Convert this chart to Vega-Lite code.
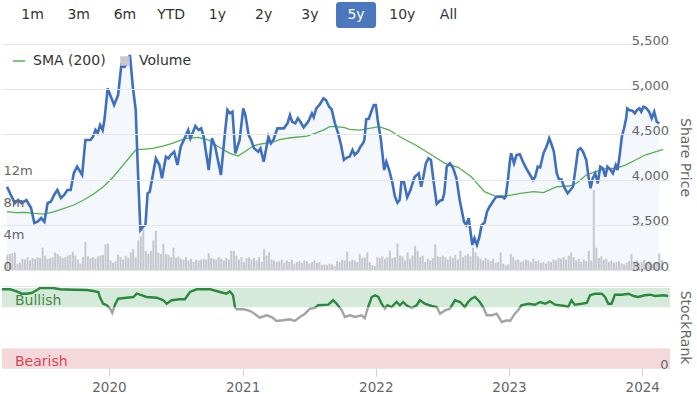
{
"$schema": "https://vega.github.io/schema/vega-lite/v6.json",
"padding": {"left": 2, "top": 2, "right": 5, "bottom": 0},
"bounds": "flush",
"spacing": 16,
"resolve": {"scale": {"color": "independent"}, "legend": {"color": "independent"}},
"config": {"font": "DejaVu Sans", "view": {"stroke": null}, "axis": {"labelFont": "DejaVu Sans", "titleFont": "DejaVu Sans"}},
"datasets": {
"buttons": [{"b":"1m"},{"b":"3m"},{"b":"6m"},{"b":"YTD"},{"b":"1y"},{"b":"2y"},{"b":"3y"},{"b":"5y"},{"b":"10y"},{"b":"All"}],
"zones": [{"zone":"Bullish","lo":74,"hi":97.5},{"zone":"Bearish","lo":0,"hi":24}],
"price": [
{"d":"2019-03-14","p":3921},{"d":"2019-03-27","p":3811},{"d":"2019-04-05","p":3741},{"d":"2019-04-14","p":3774},{"d":"2019-04-23","p":3741},{"d":"2019-05-07","p":3774},{"d":"2019-05-20","p":3686},{"d":"2019-05-29","p":3520},{"d":"2019-06-07","p":3534},{"d":"2019-06-17","p":3575},{"d":"2019-06-26","p":3534},{"d":"2019-07-05","p":3741},{"d":"2019-07-14","p":3755},{"d":"2019-07-23","p":3830},{"d":"2019-08-01","p":3885},{"d":"2019-08-11","p":3796},{"d":"2019-08-20","p":3830},{"d":"2019-08-29","p":3885},{"d":"2019-09-07","p":3885},{"d":"2019-09-16","p":4073},{"d":"2019-09-25","p":4143},{"d":"2019-10-09","p":4051},{"d":"2019-10-18","p":4438},{"d":"2019-11-01","p":4438},{"d":"2019-11-08","p":4474},{"d":"2019-11-15","p":4548},{"d":"2019-11-21","p":4515},{"d":"2019-11-28","p":4604},{"d":"2019-12-05","p":4548},{"d":"2019-12-10","p":4659},{"d":"2019-12-19","p":5010},{"d":"2019-12-26","p":4936},
{"d":"2020-01-06","p":4825},{"d":"2020-01-17","p":4936},{"d":"2020-01-26","p":5267},{"d":"2020-02-04","p":5248},{"d":"2020-02-11","p":5286},{"d":"2020-02-19","p":5378},{"d":"2020-02-27","p":5027},{"d":"2020-03-06","p":4770},{"d":"2020-03-12","p":4106},{"d":"2020-03-19","p":3442},{"d":"2020-03-26","p":3479},{"d":"2020-04-02","p":3498},{"d":"2020-04-08","p":3848},{"d":"2020-04-14","p":3866},{"d":"2020-04-20","p":3995},{"d":"2020-05-01","p":4235},{"d":"2020-05-11","p":4161},{"d":"2020-05-18","p":4014},{"d":"2020-05-29","p":4253},{"d":"2020-06-05","p":4235},{"d":"2020-06-11","p":4272},{"d":"2020-06-21","p":4308},{"d":"2020-06-30","p":4161},{"d":"2020-07-09","p":4364},{"d":"2020-07-22","p":4474},{"d":"2020-07-30","p":4548},{"d":"2020-08-05","p":4457},{"d":"2020-08-19","p":4593},{"d":"2020-08-28","p":4548},{"d":"2020-09-04","p":4567},{"d":"2020-09-11","p":4474},{"d":"2020-09-25","p":4106},{"d":"2020-10-04","p":4457},{"d":"2020-10-13","p":4364},{"d":"2020-10-29","p":4051},{"d":"2020-11-09","p":4512},{"d":"2020-11-16","p":4770},{"d":"2020-11-23","p":4733},{"d":"2020-11-30","p":4751},{"d":"2020-12-08","p":4291},{"d":"2020-12-20","p":4438},{"d":"2020-12-30","p":4788},
{"d":"2021-01-05","p":4714},{"d":"2021-01-14","p":4493},{"d":"2021-01-21","p":4438},{"d":"2021-01-29","p":4346},{"d":"2021-02-04","p":4327},{"d":"2021-02-10","p":4308},{"d":"2021-02-16","p":4346},{"d":"2021-02-25","p":4198},{"d":"2021-03-10","p":4474},{"d":"2021-03-17","p":4401},{"d":"2021-03-24","p":4438},{"d":"2021-04-04","p":4567},{"d":"2021-04-22","p":4567},{"d":"2021-05-02","p":4622},{"d":"2021-05-09","p":4714},{"d":"2021-05-15","p":4640},{"d":"2021-05-24","p":4622},{"d":"2021-05-31","p":4678},{"d":"2021-06-07","p":4640},{"d":"2021-06-16","p":4578},{"d":"2021-06-25","p":4622},{"d":"2021-06-30","p":4651},{"d":"2021-07-09","p":4733},{"d":"2021-07-14","p":4689},{"d":"2021-07-21","p":4788},{"d":"2021-07-30","p":4825},{"d":"2021-08-10","p":4899},{"d":"2021-08-17","p":4880},{"d":"2021-08-26","p":4806},{"d":"2021-09-02","p":4777},{"d":"2021-09-11","p":4622},{"d":"2021-09-20","p":4512},{"d":"2021-09-28","p":4383},{"d":"2021-10-06","p":4217},{"d":"2021-10-15","p":4246},{"d":"2021-10-22","p":4253},{"d":"2021-10-30","p":4327},{"d":"2021-11-05","p":4272},{"d":"2021-11-14","p":4308},{"d":"2021-11-21","p":4364},{"d":"2021-11-28","p":4401},{"d":"2021-12-02","p":4438},{"d":"2021-12-07","p":4667},{"d":"2021-12-14","p":4673},{"d":"2021-12-21","p":4751},{"d":"2021-12-28","p":4825},
{"d":"2022-01-03","p":4825},{"d":"2022-01-08","p":4659},{"d":"2022-01-17","p":4438},{"d":"2022-01-26","p":4106},{"d":"2022-02-01","p":4198},{"d":"2022-02-09","p":4106},{"d":"2022-02-18","p":3959},{"d":"2022-02-25","p":3811},{"d":"2022-03-04","p":3744},{"d":"2022-03-10","p":3774},{"d":"2022-03-15","p":3977},{"d":"2022-03-22","p":3977},{"d":"2022-03-31","p":3804},{"d":"2022-04-09","p":3885},{"d":"2022-04-21","p":4032},{"d":"2022-05-02","p":4069},{"d":"2022-05-09","p":3921},{"d":"2022-05-15","p":4032},{"d":"2022-05-22","p":4180},{"d":"2022-05-29","p":4235},{"d":"2022-06-05","p":4217},{"d":"2022-06-12","p":3995},{"d":"2022-06-21","p":3730},{"d":"2022-06-30","p":3766},{"d":"2022-07-07","p":3774},{"d":"2022-07-12","p":3848},{"d":"2022-07-19","p":4143},{"d":"2022-07-28","p":4180},{"d":"2022-08-06","p":4125},{"d":"2022-08-15","p":4014},{"d":"2022-08-24","p":3774},{"d":"2022-09-05","p":3534},{"d":"2022-09-11","p":3498},{"d":"2022-09-18","p":3572},{"d":"2022-09-25","p":3368},{"d":"2022-09-28","p":3277},{"d":"2022-10-04","p":3351},{"d":"2022-10-11","p":3277},{"d":"2022-10-18","p":3368},{"d":"2022-10-24","p":3498},{"d":"2022-11-01","p":3523},{"d":"2022-11-08","p":3645},{"d":"2022-11-15","p":3700},{"d":"2022-11-24","p":3755},{"d":"2022-12-02","p":3804},{"d":"2022-12-12","p":3811},{"d":"2022-12-21","p":3811},{"d":"2022-12-26","p":3793},{"d":"2022-12-30","p":3811},
{"d":"2023-01-05","p":3995},{"d":"2023-01-11","p":4217},{"d":"2023-01-14","p":4291},{"d":"2023-01-22","p":4180},{"d":"2023-01-29","p":4272},{"d":"2023-02-07","p":4280},{"d":"2023-02-16","p":4198},{"d":"2023-02-25","p":4125},{"d":"2023-03-08","p":4051},{"d":"2023-03-16","p":3995},{"d":"2023-03-22","p":4032},{"d":"2023-03-29","p":4143},{"d":"2023-04-05","p":4136},{"d":"2023-04-14","p":4291},{"d":"2023-04-23","p":4371},{"d":"2023-04-30","p":4457},{"d":"2023-05-07","p":4383},{"d":"2023-05-13","p":4308},{"d":"2023-05-21","p":4069},{"d":"2023-05-28","p":3995},{"d":"2023-06-03","p":4003},{"d":"2023-06-10","p":3921},{"d":"2023-06-20","p":3848},{"d":"2023-06-28","p":3885},{"d":"2023-07-05","p":3921},{"d":"2023-07-13","p":4143},{"d":"2023-07-19","p":4327},{"d":"2023-07-26","p":4346},{"d":"2023-08-02","p":4308},{"d":"2023-08-11","p":4217},{"d":"2023-08-18","p":4014},{"d":"2023-08-23","p":3904},{"d":"2023-08-29","p":4014},{"d":"2023-09-05","p":4069},{"d":"2023-09-12","p":3959},{"d":"2023-09-19","p":4143},{"d":"2023-09-26","p":4125},{"d":"2023-10-03","p":4032},{"d":"2023-10-09","p":4143},{"d":"2023-10-18","p":4106},{"d":"2023-10-24","p":4069},{"d":"2023-11-01","p":4161},{"d":"2023-11-06","p":4106},{"d":"2023-11-12","p":4272},{"d":"2023-11-18","p":4474},{"d":"2023-11-24","p":4567},{"d":"2023-11-30","p":4678},{"d":"2023-12-03","p":4788},{"d":"2023-12-09","p":4770},{"d":"2023-12-17","p":4762},{"d":"2023-12-24","p":4733},{"d":"2023-12-30","p":4770},
{"d":"2024-01-06","p":4788},{"d":"2024-01-11","p":4751},{"d":"2024-01-17","p":4806},{"d":"2024-01-24","p":4795},{"d":"2024-02-02","p":4751},{"d":"2024-02-09","p":4678},{"d":"2024-02-16","p":4751},{"d":"2024-02-23","p":4640},{"d":"2024-03-01","p":4622}
],
"sma": [
{"d":"2019-03-14","s":3645},{"d":"2019-04-05","s":3634},{"d":"2019-05-02","s":3638},{"d":"2019-05-29","s":3627},{"d":"2019-06-26","s":3619},{"d":"2019-07-23","s":3645},{"d":"2019-08-20","s":3682},{"d":"2019-09-16","s":3719},{"d":"2019-10-13","s":3774},{"d":"2019-11-10","s":3841},{"d":"2019-12-07","s":3921},{"d":"2020-01-04","s":4032},{"d":"2020-01-31","s":4161},{"d":"2020-02-23","s":4272},{"d":"2020-03-08","s":4335},{"d":"2020-03-26","s":4335},{"d":"2020-04-22","s":4346},{"d":"2020-05-20","s":4371},{"d":"2020-06-16","s":4401},{"d":"2020-07-22","s":4457},{"d":"2020-08-28","s":4468},{"d":"2020-09-25","s":4438},{"d":"2020-10-22","s":4364},{"d":"2020-11-23","s":4291},{"d":"2020-12-16","s":4261},{"d":"2021-01-03","s":4308},{"d":"2021-01-26","s":4371},{"d":"2021-02-17","s":4394},{"d":"2021-03-17","s":4408},{"d":"2021-04-13","s":4446},{"d":"2021-05-11","s":4463},{"d":"2021-06-25","s":4482},{"d":"2021-07-23","s":4519},{"d":"2021-08-10","s":4548},{"d":"2021-08-27","s":4585},{"d":"2021-09-16","s":4585},{"d":"2021-10-08","s":4574},{"d":"2021-10-22","s":4556},{"d":"2021-11-19","s":4548},{"d":"2021-12-16","s":4567},{"d":"2022-01-12","s":4585},{"d":"2022-02-09","s":4548},{"d":"2022-03-13","s":4468},{"d":"2022-04-23","s":4383},{"d":"2022-06-07","s":4272},{"d":"2022-07-14","s":4180},{"d":"2022-08-20","s":4136},{"d":"2022-09-25","s":4032},{"d":"2022-11-01","s":3866},{"d":"2022-11-28","s":3822},{"d":"2022-12-26","s":3818},{"d":"2023-01-17","s":3830},{"d":"2023-02-09","s":3848},{"d":"2023-03-18","s":3866},{"d":"2023-04-14","s":3855},{"d":"2023-05-21","s":3921},{"d":"2023-06-26","s":3929},{"d":"2023-07-15","s":3959},{"d":"2023-08-11","s":4051},{"d":"2023-09-07","s":4087},{"d":"2023-10-05","s":4125},{"d":"2023-11-01","s":4125},{"d":"2023-11-28","s":4161},{"d":"2023-12-26","s":4217},{"d":"2024-01-22","s":4272},{"d":"2024-02-19","s":4308},{"d":"2024-03-12","s":4335}
],
"volume": [
{"d":"2019-03-15","v":1.9},{"d":"2019-03-22","v":2.0},{"d":"2019-03-29","v":2.1},{"d":"2019-04-05","v":2.2},{"d":"2019-04-12","v":0.8},{"d":"2019-04-19","v":0.9},{"d":"2019-04-26","v":1.4},{"d":"2019-05-03","v":1.3},{"d":"2019-05-10","v":1.6},{"d":"2019-05-17","v":1.2},{"d":"2019-05-24","v":1.5},{"d":"2019-05-31","v":1.4},{"d":"2019-06-07","v":1.6},{"d":"2019-06-14","v":1.5},{"d":"2019-06-21","v":2.8},{"d":"2019-06-28","v":1.8},{"d":"2019-07-05","v":1.4},{"d":"2019-07-12","v":1.5},{"d":"2019-07-19","v":1.6},{"d":"2019-07-26","v":2.2},{"d":"2019-08-02","v":2.0},{"d":"2019-08-09","v":1.7},{"d":"2019-08-16","v":1.5},{"d":"2019-08-23","v":1.6},{"d":"2019-08-30","v":1.8},{"d":"2019-09-06","v":1.9},{"d":"2019-09-13","v":2.3},{"d":"2019-09-20","v":1.8},{"d":"2019-09-27","v":1.3},{"d":"2019-10-04","v":0.8},{"d":"2019-10-11","v":1.6},{"d":"2019-10-18","v":3.5},{"d":"2019-10-25","v":1.7},{"d":"2019-11-01","v":1.5},{"d":"2019-11-08","v":1.6},{"d":"2019-11-15","v":1.4},{"d":"2019-11-22","v":1.7},{"d":"2019-11-29","v":1.8},{"d":"2019-12-06","v":1.9},{"d":"2019-12-13","v":3.2},{"d":"2019-12-20","v":3.3},{"d":"2019-12-27","v":1.2},
{"d":"2020-01-03","v":0.9},{"d":"2020-01-10","v":1.1},{"d":"2020-01-17","v":1.9},{"d":"2020-01-24","v":1.6},{"d":"2020-01-31","v":1.3},{"d":"2020-02-07","v":1.8},{"d":"2020-02-14","v":1.5},{"d":"2020-02-21","v":2.2},{"d":"2020-02-28","v":2.6},{"d":"2020-03-06","v":1.6},{"d":"2020-03-13","v":3.7},{"d":"2020-03-20","v":4.2},{"d":"2020-03-27","v":5.1},{"d":"2020-04-03","v":2.4},{"d":"2020-04-10","v":2.0},{"d":"2020-04-17","v":2.4},{"d":"2020-04-24","v":3.7},{"d":"2020-05-01","v":4.9},{"d":"2020-05-08","v":2.2},{"d":"2020-05-15","v":2.0},{"d":"2020-05-22","v":3.3},{"d":"2020-05-29","v":2.0},{"d":"2020-06-05","v":1.9},{"d":"2020-06-12","v":1.6},{"d":"2020-06-19","v":2.8},{"d":"2020-06-26","v":1.5},{"d":"2020-07-03","v":1.7},{"d":"2020-07-10","v":1.4},{"d":"2020-07-17","v":1.3},{"d":"2020-07-24","v":1.6},{"d":"2020-07-31","v":1.2},{"d":"2020-08-07","v":1.4},{"d":"2020-08-14","v":1.0},{"d":"2020-08-21","v":1.3},{"d":"2020-08-28","v":1.2},{"d":"2020-09-04","v":1.3},{"d":"2020-09-11","v":1.4},{"d":"2020-09-18","v":1.3},{"d":"2020-09-25","v":2.1},{"d":"2020-10-02","v":1.5},{"d":"2020-10-09","v":1.4},{"d":"2020-10-16","v":1.3},{"d":"2020-10-23","v":1.6},{"d":"2020-10-30","v":1.4},{"d":"2020-11-06","v":1.2},{"d":"2020-11-13","v":1.5},{"d":"2020-11-20","v":1.3},{"d":"2020-11-27","v":2.4},{"d":"2020-12-04","v":2.4},{"d":"2020-12-11","v":1.8},{"d":"2020-12-18","v":1.3},{"d":"2020-12-25","v":1.6},
{"d":"2021-01-01","v":1.0},{"d":"2021-01-08","v":1.5},{"d":"2021-01-15","v":1.6},{"d":"2021-01-22","v":1.3},{"d":"2021-01-29","v":1.5},{"d":"2021-02-05","v":1.2},{"d":"2021-02-12","v":1.6},{"d":"2021-02-19","v":1.0},{"d":"2021-02-26","v":2.6},{"d":"2021-03-05","v":1.8},{"d":"2021-03-12","v":2.2},{"d":"2021-03-19","v":1.3},{"d":"2021-03-26","v":1.2},{"d":"2021-04-02","v":1.0},{"d":"2021-04-09","v":1.1},{"d":"2021-04-16","v":1.3},{"d":"2021-04-23","v":0.9},{"d":"2021-04-30","v":1.2},{"d":"2021-05-07","v":1.0},{"d":"2021-05-14","v":1.3},{"d":"2021-05-21","v":0.8},{"d":"2021-05-28","v":1.0},{"d":"2021-06-04","v":1.1},{"d":"2021-06-11","v":0.9},{"d":"2021-06-18","v":1.2},{"d":"2021-06-25","v":1.1},{"d":"2021-07-02","v":0.8},{"d":"2021-07-09","v":1.0},{"d":"2021-07-16","v":1.2},{"d":"2021-07-23","v":0.9},{"d":"2021-07-30","v":1.0},{"d":"2021-08-06","v":0.6},{"d":"2021-08-13","v":0.7},{"d":"2021-08-20","v":0.6},{"d":"2021-08-27","v":0.8},{"d":"2021-09-03","v":0.7},{"d":"2021-09-10","v":0.5},{"d":"2021-09-17","v":1.1},{"d":"2021-09-24","v":1.0},{"d":"2021-10-01","v":1.3},{"d":"2021-10-08","v":1.2},{"d":"2021-10-15","v":2.3},{"d":"2021-10-22","v":1.1},{"d":"2021-10-29","v":1.3},{"d":"2021-11-05","v":1.2},{"d":"2021-11-12","v":1.0},{"d":"2021-11-19","v":2.0},{"d":"2021-11-26","v":1.5},{"d":"2021-12-03","v":1.6},{"d":"2021-12-10","v":2.2},{"d":"2021-12-17","v":1.0},{"d":"2021-12-24","v":0.6},{"d":"2021-12-31","v":0.5},
{"d":"2022-01-07","v":1.6},{"d":"2022-01-14","v":1.5},{"d":"2022-01-21","v":1.7},{"d":"2022-01-28","v":1.4},{"d":"2022-02-04","v":1.6},{"d":"2022-02-11","v":2.4},{"d":"2022-02-18","v":1.5},{"d":"2022-02-25","v":1.6},{"d":"2022-03-04","v":3.3},{"d":"2022-03-11","v":1.8},{"d":"2022-03-18","v":1.7},{"d":"2022-03-25","v":1.2},{"d":"2022-04-01","v":2.2},{"d":"2022-04-08","v":1.4},{"d":"2022-04-15","v":1.8},{"d":"2022-04-22","v":3.0},{"d":"2022-04-29","v":2.4},{"d":"2022-05-06","v":1.6},{"d":"2022-05-13","v":1.8},{"d":"2022-05-20","v":1.0},{"d":"2022-05-27","v":1.4},{"d":"2022-06-03","v":1.2},{"d":"2022-06-10","v":1.5},{"d":"2022-06-17","v":3.2},{"d":"2022-06-24","v":1.7},{"d":"2022-07-01","v":1.6},{"d":"2022-07-08","v":1.8},{"d":"2022-07-15","v":1.6},{"d":"2022-07-22","v":1.3},{"d":"2022-07-29","v":1.7},{"d":"2022-08-05","v":1.5},{"d":"2022-08-12","v":1.9},{"d":"2022-08-19","v":1.3},{"d":"2022-08-26","v":2.4},{"d":"2022-09-02","v":1.6},{"d":"2022-09-09","v":1.8},{"d":"2022-09-16","v":2.0},{"d":"2022-09-23","v":1.7},{"d":"2022-09-30","v":2.8},{"d":"2022-10-07","v":2.2},{"d":"2022-10-14","v":1.7},{"d":"2022-10-21","v":1.4},{"d":"2022-10-28","v":1.2},{"d":"2022-11-04","v":1.5},{"d":"2022-11-11","v":1.3},{"d":"2022-11-18","v":1.1},{"d":"2022-11-25","v":1.4},{"d":"2022-12-02","v":0.9},{"d":"2022-12-09","v":1.0},{"d":"2022-12-16","v":2.2},{"d":"2022-12-23","v":0.8},{"d":"2022-12-30","v":0.6},
{"d":"2023-01-06","v":0.7},{"d":"2023-01-13","v":2.0},{"d":"2023-01-20","v":1.6},{"d":"2023-01-27","v":1.2},{"d":"2023-02-03","v":1.3},{"d":"2023-02-10","v":1.0},{"d":"2023-02-17","v":1.1},{"d":"2023-02-24","v":1.3},{"d":"2023-03-03","v":1.2},{"d":"2023-03-10","v":1.0},{"d":"2023-03-17","v":1.4},{"d":"2023-03-24","v":1.1},{"d":"2023-03-31","v":1.2},{"d":"2023-04-07","v":0.9},{"d":"2023-04-14","v":1.0},{"d":"2023-04-21","v":0.8},{"d":"2023-04-28","v":1.1},{"d":"2023-05-05","v":1.0},{"d":"2023-05-12","v":1.3},{"d":"2023-05-19","v":1.2},{"d":"2023-05-26","v":1.5},{"d":"2023-06-02","v":1.4},{"d":"2023-06-09","v":1.6},{"d":"2023-06-16","v":1.3},{"d":"2023-06-23","v":1.8},{"d":"2023-06-30","v":2.2},{"d":"2023-07-07","v":1.6},{"d":"2023-07-14","v":1.2},{"d":"2023-07-21","v":1.4},{"d":"2023-07-28","v":1.0},{"d":"2023-08-04","v":1.3},{"d":"2023-08-11","v":1.1},{"d":"2023-08-18","v":2.4},{"d":"2023-08-25","v":1.2},{"d":"2023-09-01","v":10.0},{"d":"2023-09-08","v":2.8},{"d":"2023-09-15","v":1.5},{"d":"2023-09-22","v":1.7},{"d":"2023-09-29","v":1.3},{"d":"2023-10-06","v":1.4},{"d":"2023-10-13","v":1.0},{"d":"2023-10-20","v":1.2},{"d":"2023-10-27","v":0.9},{"d":"2023-11-03","v":1.0},{"d":"2023-11-10","v":1.1},{"d":"2023-11-17","v":0.8},{"d":"2023-11-24","v":0.7},{"d":"2023-12-01","v":0.9},{"d":"2023-12-08","v":1.1},{"d":"2023-12-15","v":2.0},{"d":"2023-12-22","v":1.0},{"d":"2023-12-29","v":1.2},
{"d":"2024-01-05","v":0.8},{"d":"2024-01-12","v":1.0},{"d":"2024-01-19","v":1.3},{"d":"2024-01-26","v":0.9},{"d":"2024-02-02","v":1.1},{"d":"2024-02-09","v":0.8},{"d":"2024-02-16","v":0.9},{"d":"2024-02-23","v":1.0},{"d":"2024-03-01","v":2.1},{"d":"2024-03-08","v":1.3}
],
"rank": [
{"d":"2019-03-14","r":96.0},{"d":"2019-04-05","r":96.0},{"d":"2019-04-23","r":93.5},{"d":"2019-05-07","r":90.6},{"d":"2019-05-20","r":90.6},{"d":"2019-06-03","r":91.5},{"d":"2019-06-17","r":94.8},{"d":"2019-06-26","r":97.6},{"d":"2019-08-01","r":97.6},{"d":"2019-08-20","r":96.0},{"d":"2019-09-25","r":95.5},{"d":"2019-11-01","r":95.1},{"d":"2019-11-19","r":93.9},{"d":"2019-12-03","r":92.7},{"d":"2019-12-07","r":86.6},{"d":"2019-12-16","r":78.4},{"d":"2019-12-26","r":76.5},{"d":"2020-01-04","r":72.3},{"d":"2020-01-10","r":67.1},{"d":"2020-01-17","r":76.5},{"d":"2020-01-26","r":84.5},{"d":"2020-02-18","r":85.7},{"d":"2020-03-08","r":86.6},{"d":"2020-03-17","r":90.6},{"d":"2020-03-26","r":89.4},{"d":"2020-04-13","r":86.6},{"d":"2020-05-11","r":85.7},{"d":"2020-05-29","r":82.6},{"d":"2020-06-07","r":78.4},{"d":"2020-06-21","r":82.6},{"d":"2020-07-13","r":83.8},{"d":"2020-07-27","r":83.8},{"d":"2020-08-10","r":92.7},{"d":"2020-08-28","r":96.0},{"d":"2020-10-04","r":96.0},{"d":"2020-10-31","r":92.7},{"d":"2020-11-18","r":90.6},{"d":"2020-11-27","r":93.5},{"d":"2020-12-06","r":88.7},{"d":"2020-12-11","r":74.4},{"d":"2020-12-16","r":71.6},{"d":"2021-01-03","r":71.6},{"d":"2021-01-17","r":70.4},{"d":"2021-01-30","r":67.4},{"d":"2021-02-17","r":61.3},{"d":"2021-03-08","r":64.3},{"d":"2021-03-22","r":62.2},{"d":"2021-04-04","r":57.3},{"d":"2021-04-22","r":58.2},{"d":"2021-05-11","r":59.4},{"d":"2021-05-24","r":57.3},{"d":"2021-06-07","r":62.2},{"d":"2021-06-21","r":66.2},{"d":"2021-07-05","r":72.3},{"d":"2021-07-18","r":73.2},{"d":"2021-07-27","r":76.5},{"d":"2021-08-24","r":77.2},{"d":"2021-09-06","r":82.6},{"d":"2021-09-16","r":78.4},{"d":"2021-09-25","r":73.2},{"d":"2021-09-30","r":70.4},{"d":"2021-10-08","r":62.2},{"d":"2021-10-22","r":64.3},{"d":"2021-11-05","r":62.2},{"d":"2021-11-23","r":64.3},{"d":"2021-12-02","r":60.9},{"d":"2021-12-11","r":74.4},{"d":"2021-12-21","r":86.6},{"d":"2021-12-30","r":88.7},{"d":"2022-01-08","r":86.6},{"d":"2022-01-17","r":78.4},{"d":"2022-01-26","r":72.3},{"d":"2022-02-02","r":76.5},{"d":"2022-02-13","r":74.4},{"d":"2022-02-27","r":80.5},{"d":"2022-03-08","r":76.5},{"d":"2022-03-17","r":80.5},{"d":"2022-03-26","r":76.5},{"d":"2022-04-09","r":73.2},{"d":"2022-04-23","r":76.5},{"d":"2022-05-02","r":82.6},{"d":"2022-05-15","r":78.4},{"d":"2022-06-03","r":75.6},{"d":"2022-06-17","r":74.4},{"d":"2022-06-26","r":66.2},{"d":"2022-07-10","r":70.4},{"d":"2022-07-23","r":72.3},{"d":"2022-08-06","r":82.6},{"d":"2022-08-20","r":80.5},{"d":"2022-09-02","r":74.4},{"d":"2022-09-11","r":80.5},{"d":"2022-09-20","r":84.5},{"d":"2022-09-30","r":86.6},{"d":"2022-10-13","r":80.5},{"d":"2022-10-22","r":74.4},{"d":"2022-11-01","r":64.3},{"d":"2022-11-15","r":64.3},{"d":"2022-11-28","r":66.2},{"d":"2022-12-12","r":56.1},{"d":"2022-12-26","r":58.2},{"d":"2023-01-04","r":57.3},{"d":"2023-01-17","r":66.2},{"d":"2023-01-26","r":70.4},{"d":"2023-02-04","r":76.5},{"d":"2023-02-23","r":78.4},{"d":"2023-03-13","r":77.2},{"d":"2023-03-27","r":80.5},{"d":"2023-04-10","r":78.4},{"d":"2023-04-23","r":81.3},{"d":"2023-05-07","r":77.2},{"d":"2023-06-03","r":75.6},{"d":"2023-06-12","r":74.4},{"d":"2023-06-21","r":82.6},{"d":"2023-06-30","r":77.2},{"d":"2023-07-19","r":78.4},{"d":"2023-08-02","r":79.3},{"d":"2023-08-11","r":88.7},{"d":"2023-08-25","r":90.6},{"d":"2023-09-12","r":90.6},{"d":"2023-09-21","r":86.6},{"d":"2023-09-30","r":78.4},{"d":"2023-10-09","r":78.4},{"d":"2023-10-18","r":89.4},{"d":"2023-11-06","r":89.4},{"d":"2023-11-24","r":90.6},{"d":"2023-12-08","r":87.8},{"d":"2023-12-21","r":86.6},{"d":"2024-01-08","r":88.7},{"d":"2024-01-22","r":89.4},{"d":"2024-02-05","r":87.8},{"d":"2024-02-28","r":88.7},{"d":"2024-03-12","r":87.8}
]
},
"vconcat": [
{
 "width": 477, "height": 26,
 "data": {"name": "buttons"},
 "layer": [
  {"transform": [{"filter": "datum.b === '5y'"}],
   "mark": {"type": "bar", "cornerRadius": 3, "color": "#4a77bd"},
   "encoding": {"x": {"field": "b", "type": "nominal", "axis": null,
     "scale": {"type": "band", "domain": ["1m","3m","6m","YTD","1y","2y","3y","5y","10y","All"], "paddingInner": 0.134, "paddingOuter": 0.227}}}},
  {"mark": {"type": "text", "fontSize": 14},
   "encoding": {"x": {"field": "b", "type": "nominal", "axis": null},
     "text": {"field": "b"},
     "color": {"condition": {"test": "datum.b === '5y'", "value": "#ffffff"}, "value": "#333333"}}}
 ]
},
{
 "width": 668, "height": 226,
 "layer": [
  {"data": {"name": "price"},
   "mark": {"type": "area", "color": "#3f6fbf", "opacity": 0.06, "clip": true},
   "encoding": {
    "x": {"field": "d", "type": "temporal", "axis": null, "scale": {"type": "utc", "domain": [{"year":2019,"month":3,"date":14,"utc":true},{"year":2024,"month":3,"date":17,"utc":true}]}},
    "y": {"field": "p", "type": "quantitative", "scale": {"domain": [3000, 5500], "zero": false, "nice": false},
     "axis": {"orient": "right", "values": [3000,3500,4000,4500,5000,5500], "format": ",d", "grid": true, "gridColor": "#e6e6e6", "domain": false, "ticks": false, "tickSize": 0, "labelAlign": "right", "labelPadding": -1.5, "labelBaseline": "alphabetic", "labelDy": -4, "labelFontSize": 13, "labelColor": "#666666", "title": "Share Price", "titleFontSize": 14, "titleFontWeight": "normal", "titleColor": "#666666", "titlePadding": 7, "zindex": 1}},
    "y2": {"datum": 3000}
   }},
  {"data": {"name": "volume"},
   "mark": {"type": "bar", "size": 2, "clip": true},
   "encoding": {
    "x": {"field": "d", "type": "temporal", "axis": null},
    "y": {"field": "v", "type": "quantitative", "scale": {"domain": [0, 28.25], "nice": false, "zero": true},
     "axis": {"orient": "left", "values": [0,4,8,12], "labelExpr": "datum.value == 0 ? '0' : datum.value + 'm'", "grid": false, "domain": false, "ticks": false, "tickSize": 0, "labelAlign": "left", "labelPadding": -1, "labelBaseline": "alphabetic", "labelDy": -4, "labelFontSize": 13, "labelColor": "#666666", "title": null, "zindex": 1}},
    "color": {"datum": "Volume", "type": "nominal", "scale": {"domain": ["SMA (200)", "Volume"], "range": ["#52b04f", "#c6c7cf"]},
     "legend": {"title": null, "orient": "top-left", "direction": "horizontal", "offset": 10, "labelFontSize": 14, "labelColor": "#333333", "symbolSize": 150, "labelOffset": 7, "columnPadding": 12,
      "encode": {"symbols": {"update": {
        "shape": {"signal": "datum.value === 'Volume' ? 'square' : 'stroke'"},
        "size": {"signal": "datum.value === 'Volume' ? 64 : 150"},
        "fill": {"signal": "datum.value === 'Volume' ? '#aaabb2' : 'transparent'"},
        "stroke": {"signal": "datum.value === 'Volume' ? 'transparent' : '#52b04f'"},
        "strokeWidth": {"value": 1.5},
        "opacity": {"value": 1}}}}}}
   }},
  {"layer": [
    {"data": {"name": "sma"},
     "mark": {"type": "line", "strokeWidth": 1.3, "clip": true},
     "encoding": {
      "x": {"field": "d", "type": "temporal", "axis": null},
      "y": {"field": "s", "type": "quantitative", "scale": {"domain": [3000, 5500], "zero": false, "nice": false}, "axis": null},
      "color": {"datum": "SMA (200)", "type": "nominal"}}},
    {"data": {"name": "price"},
     "mark": {"type": "line", "color": "#3f6fbf", "strokeWidth": 2.6, "clip": true},
     "encoding": {
      "x": {"field": "d", "type": "temporal", "axis": null},
      "y": {"field": "p", "type": "quantitative", "scale": {"domain": [3000, 5500], "zero": false, "nice": false}, "axis": null}}}
  ]}
 ],
 "resolve": {"scale": {"y": "independent"}, "axis": {"y": "independent"}}
},
{
 "width": 668, "height": 82,
 "layer": [
  {"data": {"name": "zones"},
   "mark": {"type": "rect"},
   "encoding": {
    "x": {"datum": {"year":2019,"month":3,"date":14,"utc":true}, "type": "temporal",
     "scale": {"type": "utc", "domain": [{"year":2019,"month":3,"date":14,"utc":true},{"year":2024,"month":3,"date":17,"utc":true}]},
     "axis": {"orient": "bottom", "values": [{"year":2020,"month":1,"date":1,"utc":true},{"year":2021,"month":1,"date":1,"utc":true},{"year":2022,"month":1,"date":1,"utc":true},{"year":2023,"month":1,"date":1,"utc":true},{"year":2024,"month":1,"date":1,"utc":true}],
      "format": "%Y", "grid": false, "domain": true, "domainColor": "#d0d0d0", "ticks": true, "tickSize": 8, "tickColor": "#d0d0d0", "labelFontSize": 13.5, "labelColor": "#666666", "labelBaseline": "alphabetic", "labelPadding": 15, "title": null}},
    "x2": {"datum": {"year":2024,"month":3,"date":17,"utc":true}},
    "y": {"field": "lo", "type": "quantitative", "scale": {"domain": [0, 100], "nice": false},
     "axis": {"orient": "right", "values": [0, 100], "labelExpr": "datum.value == 0 ? '0' : ''", "grid": true, "gridColor": "#e6e6e6", "domain": false, "ticks": false, "tickSize": 0, "labelAlign": "right", "labelPadding": -2, "labelBaseline": "alphabetic", "labelDy": -4, "labelFontSize": 13, "labelColor": "#666666", "title": "StockRank", "titleFontSize": 14, "titleFontWeight": "normal", "titleColor": "#666666", "titlePadding": 7, "zindex": 1}},
    "y2": {"field": "hi"},
    "color": {"condition": {"test": "datum.zone === 'Bullish'", "value": "#d5eadb"}, "value": "#f5d8db"}
   }},
  {"data": {"name": "zones"},
   "mark": {"type": "text", "align": "left", "baseline": "alphabetic", "dx": 13, "dy": -2, "fontSize": 14},
   "encoding": {
    "x": {"datum": {"year":2019,"month":3,"date":14,"utc":true}, "type": "temporal"},
    "y": {"field": "lo", "type": "quantitative"},
    "text": {"field": "zone"},
    "color": {"condition": {"test": "datum.zone === 'Bullish'", "value": "#468a46"}, "value": "#d84652"}
   }},
  {"data": {"name": "rank"},
   "mark": {"type": "line", "strokeWidth": 2.4, "clip": true,
    "color": {"gradient": "linear", "x1": 0, "y1": 0, "x2": 0, "y2": 1,
     "stops": [{"offset": 0, "color": "#2a8a3c"}, {"offset": 0.5687, "color": "#2a8a3c"}, {"offset": 0.5687, "color": "#a3a3a3"}, {"offset": 1, "color": "#a3a3a3"}]}},
   "encoding": {
    "x": {"field": "d", "type": "temporal"},
    "y": {"field": "r", "type": "quantitative"}
   }}
 ]
}
]
}
